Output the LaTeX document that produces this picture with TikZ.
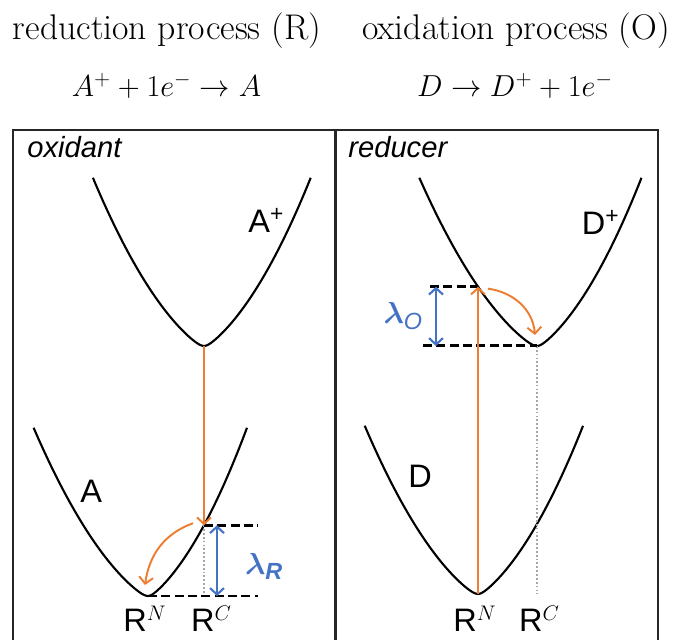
\documentclass[tikz,border=0pt]{standalone}
\usepackage{amsmath}
\usepackage{fontspec}
\setsansfont{Liberation Sans}
\usetikzlibrary{arrows.meta,calc,positioning}
\definecolor{hoporange}{RGB}{237,125,49}
\definecolor{lamblue}{RGB}{68,114,196}

\begin{document}
\begin{tikzpicture}[>={Straight Barb[length=1.3mm,width=2.8mm]},
  declare function={pes(\u)=0.712*(sqrt(\u*\u+0.01)-0.1)+0.386*\u*\u;},
  well/.style={line width=1.2pt},
  hop/.style={hoporange,line width=1.1pt,->},
  gap/.style={lamblue,line width=1.2pt,<->},
  lvl/.style={line width=1.7pt,dash pattern=on 5pt off 2.6pt},
  guide/.style={gray!70,line width=0.6pt,dash pattern=on 1pt off 1.2pt},
  panel/.style={black!85,line width=1.1pt},
  ttl/.style={anchor=base,inner sep=0pt,font=\fontsize{20.3}{24}\selectfont},
  eqn/.style={anchor=base,inner sep=0pt,font=\fontsize{18}{21}\selectfont},
  tag/.style={anchor=base west,inner sep=0pt,font=\sffamily\itshape\fontsize{16.6}{19}\selectfont},
  sp/.style={anchor=base west,inner sep=0pt,font=\sffamily\fontsize{18.5}{22}\selectfont},
  rc/.style={anchor=base,inner sep=0pt,font=\sffamily\fontsize{18.5}{22}\selectfont},
  lam/.style={lamblue,inner sep=0pt,font=\fontsize{19}{22}\selectfont}]
  \useasboundingbox (0,0) rectangle (13.46,12.8);

  \node[ttl] (hRed) at (3.34,12.0) {reduction process (R)};
  \node[ttl] (hOx) at (10.32,12.0) {oxidation process (O)};
  \node[eqn] (eRed) at (3.33,10.86) {$A^{+}+1e^{-}\rightarrow A$};
  \node[eqn] (eOx) at (10.3,10.86) {$D\rightarrow D^{+}+1e^{-}$};

  \draw[panel] (0.26,0) -- (0.26,10.2) -- (6.69,10.2) -- (6.69,0);
  \draw[panel] (6.72,0) -- (6.72,10.2) -- (13.16,10.2) -- (13.16,0);
  \node[tag] (oxi) at (0.54,9.64) {oxidant};
  \node[tag] (redu) at (6.96,9.64) {reducer};

  % the four wells: minimum, then width of left and right arm
  \foreach \mx/\my/\sl/\sr in {4.08/5.88/1.01/0.97,2.96/0.88/1.04/0.90,10.74/5.88/1.07/0.95,9.56/0.92/1.03/0.955}
    \draw[well] plot[domain=-2.2:0,samples=50,variable=\t] ({\mx+\sl*\t},{\my+pes(\t)})
          -- plot[domain=0:2.2,samples=50,variable=\t] ({\mx+\sr*\t},{\my+pes(\t)});

  \coordinate (minAp) at (4.08,5.88);
  \coordinate (minA) at (2.96,0.88);
  \coordinate (minDp) at (10.74,5.88);
  \coordinate (minD) at (9.56,0.92);
  \coordinate (crsA) at ({4.08},{0.88+pes((4.08-2.96)/0.90)});
  \coordinate (crsD) at ({9.56},{5.88+pes((9.56-10.74)/1.07)});

  \node[sp] (lAp) at (4.96,8.14) {A\textsuperscript{+}};
  \node[sp] (lDp) at (11.63,8.10) {D\textsuperscript{+}};
  \node[sp] (lA) at (1.60,2.74) {A};
  \node[sp] (lD) at (8.16,3.04) {D};

  \draw[guide] (crsA) -- (crsA |- minA);
  \draw[lvl] (crsA) -- ++(1.08,0) coordinate (lvlA);
  \draw[lvl] (minA) -- (lvlA |- minA);
  \draw[gap] ($(crsA)+(0.26,0)$) -- ($(crsA |- minA)+(0.26,0)$)
     node[lam,midway,right=0.54cm,yshift=-0.12cm] (lamR) {$\boldsymbol{\lambda}_{\textsf{\bfseries\itshape R}}$};
  \coordinate (hopAs) at ($(crsA)+(-0.22,0.04)$);
  \coordinate (hopAe) at ($(minA)+(-0.06,0.22)$);
  \draw[hop] (minAp) -- (crsA);
  \draw[hop] (hopAs) to[out=200,in=82] (hopAe);

  \draw[guide] (minDp) -- (minDp |- minD);
  \draw[lvl] ($(crsD)+(-0.96,0)$) -- (crsD);
  \draw[lvl] ($(minDp)+(-2.28,0)$) -- (minDp);
  \draw[gap] ($(crsD)+(-0.84,0)$) -- ($(crsD |- minDp)+(-0.84,0)$)
     node[lam,midway,left=0.24cm] (lamO) {$\boldsymbol{\lambda}_{\textsf{\itshape O}}$};
  \coordinate (hopDs) at ($(crsD)+(0.2,-0.04)$);
  \coordinate (hopDe) at ($(minDp)+(-0.04,0.22)$);
  \draw[hop] (minD) -- (crsD);
  \draw[hop] (hopDs) to[out=-8,in=95] (hopDe);

  \node[rc] (rNl) at (2.90,0.16) {R$^{N}$};
  \node[rc] (rCl) at (4.23,0.16) {R$^{C}$};
  \node[rc] (rNr) at (9.50,0.16) {R$^{N}$};
  \node[rc] (rCr) at (10.79,0.16) {R$^{C}$};
\end{tikzpicture}
\end{document}
